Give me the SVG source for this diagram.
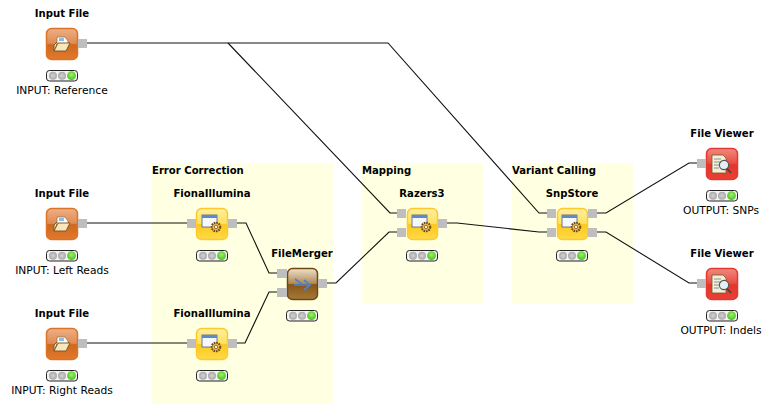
<svg xmlns="http://www.w3.org/2000/svg" width="774" height="410" viewBox="0 0 774 410">
<defs>
<linearGradient id="or" x1="0" y1="0" x2="0" y2="1"><stop offset="0" stop-color="#eeb088"/><stop offset=".48" stop-color="#e08a52"/><stop offset=".52" stop-color="#cf6820"/><stop offset="1" stop-color="#e17a2c"/></linearGradient>
<linearGradient id="ye" x1="0" y1="0" x2="0" y2="1"><stop offset="0" stop-color="#fff0a0"/><stop offset=".48" stop-color="#ffe060"/><stop offset=".52" stop-color="#fdc81c"/><stop offset="1" stop-color="#ffda48"/></linearGradient>
<linearGradient id="br" x1="0" y1="0" x2="0" y2="1"><stop offset="0" stop-color="#eee2cc"/><stop offset=".48" stop-color="#b08a58"/><stop offset=".52" stop-color="#86561a"/><stop offset="1" stop-color="#a67a38"/></linearGradient>
<linearGradient id="re" x1="0" y1="0" x2="0" y2="1"><stop offset="0" stop-color="#f08a80"/><stop offset=".48" stop-color="#e94c42"/><stop offset=".52" stop-color="#e2362c"/><stop offset="1" stop-color="#ea4036"/></linearGradient>
<radialGradient id="gb" cx=".5" cy=".5" r=".5"><stop offset="0" stop-color="#d4d4d4"/><stop offset="1" stop-color="#a8a8a8"/></radialGradient>
<radialGradient id="gg" cx=".5" cy=".4" r=".55"><stop offset="0" stop-color="#a6ee6c"/><stop offset="1" stop-color="#4cc428"/></radialGradient>
<g id="status"><rect x=".5" y=".5" width="31" height="10.5" rx="3" fill="#f4f4f4" stroke="#222"/><circle cx="7" cy="5.7" r="4" fill="url(#gb)"/><circle cx="16" cy="5.7" r="4" fill="url(#gb)"/><circle cx="25.5" cy="5.7" r="4.4" fill="url(#gg)"/></g>
<g id="doc"><path d="M-5 3V-7H3L6-3V3Z" fill="#fff" stroke="#8a7040" stroke-width=".7"/><rect x="-3" y="-6" width="5" height="3" fill="#8fbce6"/><path d="M-8 7-4-1H8L4 7Z M-8 7V1L-5-2" fill="#fbe6bc" stroke="#6e5020" stroke-width=".9"/></g>
<g id="cfg"><rect x="-9" y="-9" width="15" height="12" fill="#f6f8fc" stroke="#50607a" stroke-width=".8"/><rect x="-9" y="-9" width="15" height="3" fill="#5a8ccc"/><circle cx="5" cy="3" r="4.3" fill="#eeb850" stroke="#6a4a1a" stroke-width="2" stroke-dasharray="1.6 .9"/><circle cx="5" cy="3" r="1.7" fill="#fff5d0" stroke="#6a4a1a" stroke-width=".7"/></g>
<g id="view"><path d="M-9-9H2L5-6V9H-9Z" fill="#f8efd0" stroke="#6a5a30" stroke-width=".8"/><path d="M-7-5H0M-7-2H-1M-7 1H-2M-7 4H-2" stroke="#7088a8" stroke-width=".9"/><circle cx="3" cy="1" r="4.6" fill="#e4f0f8" stroke="#555" stroke-width="1.1"/><path d="M6 4.500 10 9" stroke="#444" stroke-width="1.8"/></g>
</defs>
<style>
.t{font-family:"DejaVu Sans","Liberation Sans",Arial,sans-serif;font-size:10.7px;fill:#000;text-anchor:middle}
.b{font-weight:bold;font-size:10.1px}
.a{text-anchor:start}
.p{fill:#bebebe}
.c{fill:none;stroke:#111;stroke-width:1.1}
.i{stroke-width:1.5}
.or{fill:url(#or);stroke:#dc7426}
.ye{fill:url(#ye);stroke:#fdc92c}
.br{fill:url(#br);stroke:#71470f}
.re{fill:url(#re);stroke:#e23a30}
</style>
<rect width="774" height="410" fill="#fff"/>
<g id="annotations">
<rect x="152" y="163" width="181" height="241" fill="#ffffe1"/>
<rect x="362" y="163" width="121" height="141" fill="#ffffe1"/>
<rect x="512" y="163" width="121" height="141" fill="#ffffe1"/>
<text class="t b a" x="152" y="174">Error Correction</text>
<text class="t b a" x="362" y="174">Mapping</text>
<text class="t b a" x="512" y="174">Variant Calling</text>
</g>
<g id="connectors">
<path class="c" d="M87 43H388L539 213H547"/>
<path class="c" d="M228 43 390 213H397"/>
<path class="c" d="M87 223H187"/>
<path class="c" d="M87 343H187"/>
<path class="c" d="M237 223H246L269 273H277"/>
<path class="c" d="M237 343H245L269 292H277"/>
<path class="c" d="M327 283H336L389 232H397"/>
<path class="c" d="M447 223H457L539 232H547"/>
<path class="c" d="M597 213H606L689 163H697"/>
<path class="c" d="M597 232H606L689 283H697"/>
</g>
<g id="input1"><text class="t b" x="62" y="17">Input File</text><rect class="or i" x="46.5" y="28.500" width="31" height="31" rx="5"/><use href="#doc" x="62" y="44"/><rect class="p" x="78" y="39" width="9" height="9"/><use href="#status" x="46" y="70"/><text class="t" x="62" y="94">INPUT: Reference</text></g>
<g id="input2"><text class="t b" x="62" y="197">Input File</text><rect class="or i" x="46.5" y="208.500" width="31" height="31" rx="5"/><use href="#doc" x="62" y="224"/><rect class="p" x="78" y="219" width="9" height="9"/><use href="#status" x="46" y="250"/><text class="t" x="62" y="274">INPUT: Left Reads</text></g>
<g id="input3"><text class="t b" x="62" y="317">Input File</text><rect class="or i" x="46.5" y="328.500" width="31" height="31" rx="5"/><use href="#doc" x="62" y="344"/><rect class="p" x="78" y="339" width="9" height="9"/><use href="#status" x="46" y="370"/><text class="t" x="62" y="394">INPUT: Right Reads</text></g>
<g id="fiona1"><text class="t b" x="212" y="197">FionaIllumina</text><rect class="ye i" x="196.500" y="208.500" width="31" height="31" rx="5"/><use href="#cfg" x="211" y="224"/><rect class="p" x="187" y="219" width="9" height="9"/><rect class="p" x="228" y="219" width="9" height="9"/><use href="#status" x="196" y="250"/></g>
<g id="fiona2"><text class="t b" x="212" y="317">FionaIllumina</text><rect class="ye i" x="196.500" y="328.500" width="31" height="31" rx="5"/><use href="#cfg" x="211" y="344"/><rect class="p" x="187" y="339" width="9" height="9"/><rect class="p" x="228" y="339" width="9" height="9"/><use href="#status" x="196" y="370"/></g>
<g id="filemerger"><text class="t b" x="302" y="257">FileMerger</text><rect class="br i" x="287.500" y="268.500" width="30" height="31" rx="5"/><path d="M294 285H310M304 280 310 285 304 290M295 279 302 284" fill="none" stroke="#4f82cc" stroke-width="1.7"/><rect class="p" x="277" y="269" width="10" height="9"/><rect class="p" x="277" y="288" width="10" height="9"/><rect class="p" x="318" y="279" width="9" height="9"/><use href="#status" x="286" y="310"/></g>
<g id="razers3"><text class="t b" x="422" y="197">Razers3</text><rect class="ye i" x="407.500" y="208.500" width="30" height="31" rx="5"/><use href="#cfg" x="421" y="224"/><rect class="p" x="397" y="209" width="9" height="9"/><rect class="p" x="397" y="228" width="9" height="9"/><rect class="p" x="438" y="219" width="9" height="9"/><use href="#status" x="406" y="250"/></g>
<g id="snpstore"><text class="t b" x="572" y="197">SnpStore</text><rect class="ye i" x="557.500" y="208.500" width="30" height="31" rx="5"/><use href="#cfg" x="571" y="224"/><rect class="p" x="547" y="209" width="9" height="9"/><rect class="p" x="547" y="228" width="9" height="9"/><rect class="p" x="588" y="209" width="9" height="9"/><rect class="p" x="588" y="228" width="9" height="9"/><use href="#status" x="556" y="250"/></g>
<g id="viewer1"><text class="t b" x="722" y="137">File Viewer</text><rect class="re i" x="706.500" y="148.500" width="31" height="31" rx="5"/><use href="#view" x="721" y="164"/><rect class="p" x="697" y="159" width="9" height="9"/><use href="#status" x="706" y="190"/><text class="t" x="721" y="214">OUTPUT: SNPs</text></g>
<g id="viewer2"><text class="t b" x="722" y="257">File Viewer</text><rect class="re i" x="706.500" y="268.500" width="31" height="31" rx="5"/><use href="#view" x="721" y="284"/><rect class="p" x="697" y="279" width="9" height="9"/><use href="#status" x="706" y="310"/><text class="t" x="721" y="334">OUTPUT: Indels</text></g>
</svg>
